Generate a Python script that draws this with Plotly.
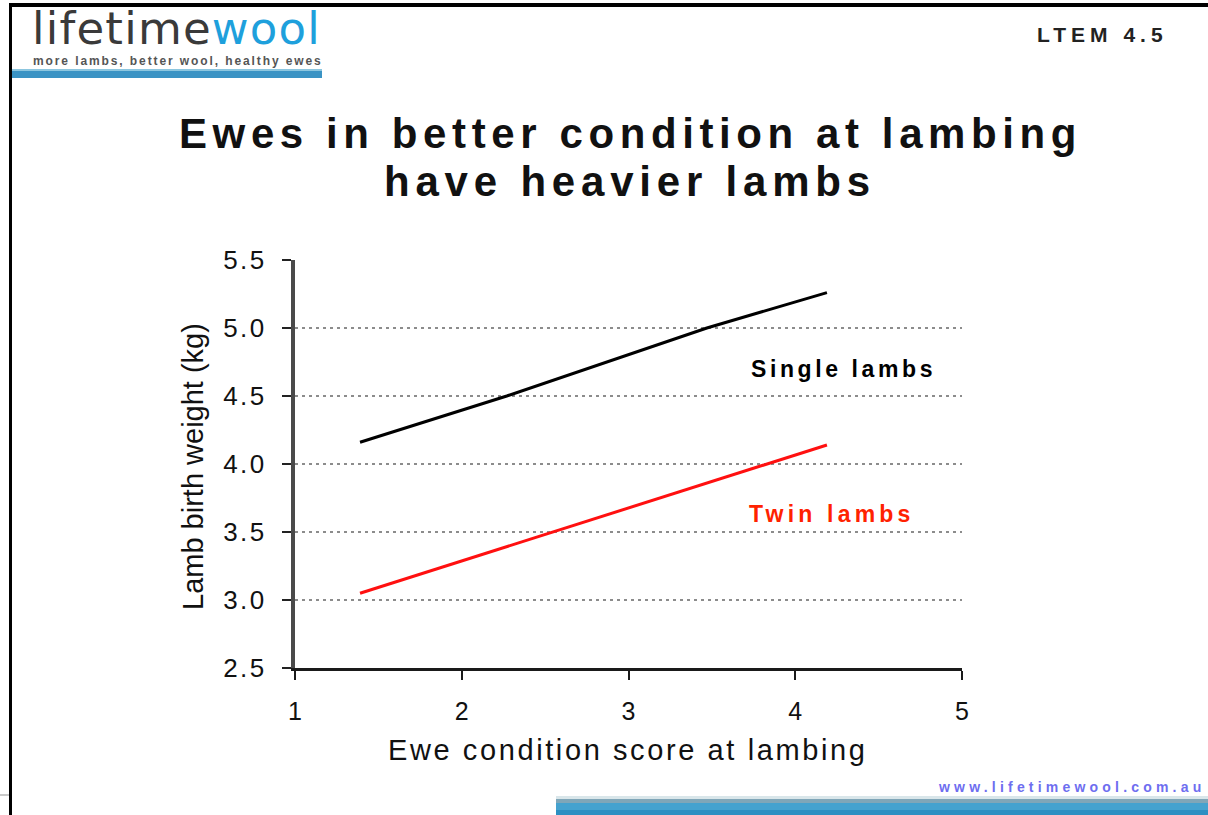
import plotly.graph_objects as go

# ---- data ----
single_x = [1.39, 2.27, 3.47, 4.19]
single_y = [4.16, 4.50, 5.00, 5.26]
twin_x = [1.39, 2.55, 3.84, 4.19]
twin_y = [3.05, 3.50, 4.00, 4.14]
x_ticks = [1, 2, 3, 4, 5]
y_ticks = [2.5, 3.0, 3.5, 4.0, 4.5, 5.0, 5.5]

W, H = 1208, 815
L, R, T, B = 295, 962, 260, 668  # plot area pixel edges


def px(x):
    return (x - L) / (R - L)


def py(y):
    return (B - y) / (B - T)


def ls(text, sp):
    return f"<span style='letter-spacing:{sp}px'>{text}</span>"


FONT = "Arial, Liberation Sans, sans-serif"

fig = go.Figure()
fig.add_trace(go.Scatter(x=single_x, y=single_y, mode="lines",
                         line=dict(color="#000000", width=3), showlegend=False))
fig.add_trace(go.Scatter(x=twin_x, y=twin_y, mode="lines",
                         line=dict(color="#ff1010", width=3), showlegend=False))

fig.update_layout(
    width=W, height=H,
    margin=dict(l=L, r=W - R, t=T, b=H - B, pad=0),
    paper_bgcolor="white", plot_bgcolor="white",
    font=dict(family=FONT, color="#000"),
    xaxis=dict(range=[1, 5], tickvals=x_ticks, ticktext=[str(v) for v in x_ticks],
               showgrid=False, zeroline=False, showline=True, linecolor="#1a1a1a",
               linewidth=3, ticks="outside", ticklen=9, tickwidth=2, tickcolor="#1a1a1a",
               ticklabelstandoff=10,
               tickfont=dict(size=25, family=FONT, color="#111")),
    yaxis=dict(range=[2.5, 5.5], tickvals=y_ticks,
               ticktext=[ls(f"{v:.1f}", 2.5) for v in y_ticks],
               showgrid=True, gridcolor="#8c8c8c", gridwidth=2, griddash="3px,4px",
               zeroline=False, showline=True, linecolor="#4a4a4a", linewidth=4,
               ticks="outside", ticklen=9, tickwidth=2, tickcolor="#222",
               ticklabelstandoff=10,
               tickfont=dict(size=26, family=FONT, color="#111")),
)

ann = []
# title (two lines)
ann.append(dict(x=px(630), y=py(133), xref="paper", yref="paper",
                text="<b>" + ls("Ewes in better condition at lambing", 5.6) + "</b>",
                showarrow=False, xanchor="center", yanchor="middle",
                font=dict(size=42, family=FONT, color="#111")))
ann.append(dict(x=px(630), y=py(181), xref="paper", yref="paper",
                text="<b>" + ls("have heavier lambs", 5.8) + "</b>",
                showarrow=False, xanchor="center", yanchor="middle",
                font=dict(size=42, family=FONT, color="#111")))
# axis titles
ann.append(dict(x=px(627), y=py(750), xref="paper", yref="paper",
                text=ls("Ewe condition score at lambing", 2.6),
                showarrow=False, xanchor="center", yanchor="middle",
                font=dict(size=29, family=FONT, color="#111")))
ann.append(dict(x=px(193), y=py(467), xref="paper", yref="paper",
                text="Lamb birth weight (kg)", textangle=-90,
                showarrow=False, xanchor="center", yanchor="middle",
                font=dict(size=29, family=FONT, color="#111")))
# series labels
ann.append(dict(x=px(843), y=py(369), xref="paper", yref="paper",
                text="<b>" + ls("Single lambs", 3.6) + "</b>",
                showarrow=False, xanchor="center", yanchor="middle",
                font=dict(size=23, family=FONT, color="#000")))
ann.append(dict(x=px(832), y=py(514), xref="paper", yref="paper",
                text="<b>" + ls("Twin lambs", 4.2) + "</b>",
                showarrow=False, xanchor="center", yanchor="middle",
                font=dict(size=23, family=FONT, color="#ff2200")))
# slide code
ann.append(dict(x=px(1102), y=py(35), xref="paper", yref="paper",
                text="<b>" + ls("LTEM 4.5", 5) + "</b>",
                showarrow=False, xanchor="center", yanchor="middle",
                font=dict(size=21, family=FONT, color="#222")))
# logo
ann.append(dict(x=px(30), y=py(28.5), xref="paper", yref="paper",
                text=ls("<span style='color:#3a3a3a'>lifetime</span><span style='color:#1ea0dc'>wool</span>", 1.2),
                showarrow=False, xanchor="left", yanchor="middle",
                font=dict(size=45, family="DejaVu Sans, Verdana, sans-serif")))
ann.append(dict(x=px(31), y=py(61.5), xref="paper", yref="paper",
                text="<b>" + ls("more lambs, better wool, healthy ewes", 1.9) + "</b>",
                showarrow=False, xanchor="left", yanchor="middle",
                font=dict(size=12, family=FONT, color="#555")))
# website
ann.append(dict(x=px(1207), y=py(787), xref="paper", yref="paper",
                text="<b>" + ls("www.lifetimewool.com.au", 4.2) + "</b>",
                showarrow=False, xanchor="right", yanchor="middle",
                font=dict(size=14, family=FONT, color="#6e6ef0")))
fig.update_layout(annotations=ann)

shapes = []


def rect(x0, x1, y0, y1, color, layer="above"):
    shapes.append(dict(type="rect", xref="paper", yref="paper", x0=px(x0), x1=px(x1),
                       y0=py(y0), y1=py(y1), fillcolor=color, line=dict(width=0),
                       layer=layer))


# black slide border (top + left)
rect(9, W + 5, 3, 7, "#000")
rect(9, 12, 3, H + 5, "#000")
rect(0, 9, 794, 796, "#c9c9c9")
# logo underline bar
rect(12, 322, 69, 71, "#8cc6df", "below")
rect(12, 322, 71, 78, "#3a93c4", "below")
# bottom right bar
rect(556, W + 5, 796, 799, "#d9e6ea", "below")
rect(556, W + 5, 799, 803, "#80a6b8", "below")
rect(556, W + 5, 803, 810, "#45a2cf", "below")
rect(556, W + 5, 810, H + 5, "#2d8fc2", "below")
fig.update_layout(shapes=shapes)

fig.write_html("out.html", config={"displayModeBar": False},
               post_script="document.body.style.margin='0';document.body.style.padding='0';document.body.style.overflow='hidden';")
